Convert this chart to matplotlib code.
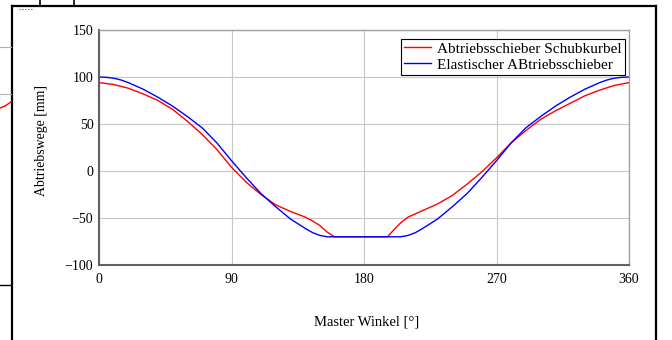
import matplotlib
matplotlib.use("Agg")
import matplotlib.pyplot as plt

# Winkel [°] und Wege [mm]
winkel_rot = [0, 10, 20, 30, 40, 50, 60, 70, 80, 90, 100, 110, 120, 130,
              140, 145, 150, 155, 160, 180, 196, 200, 205, 210, 220, 230,
              240, 250, 260, 270, 280, 290, 300, 310, 320, 330, 340, 350, 360]
weg_rot = [94, 92, 88, 82, 75, 65.5, 53, 39, 23, 4, -12, -25, -36, -43,
           -49, -53, -58, -65, -70, -70, -70, -63, -55, -49, -42, -35,
           -26, -14, -1, 14, 30, 43, 55, 64, 72, 80, 86, 91, 94]

winkel_blau = [0, 5, 10, 15, 20, 30, 40, 50, 60, 70, 80, 90, 100, 110, 120,
               130, 140, 145, 150, 155, 180, 205, 210, 215, 220, 230, 240,
               250, 260, 270, 280, 290, 300, 310, 320, 330, 340, 345, 350,
               355, 360]
weg_blau = [100, 99.7, 98.7, 96.8, 94, 87, 78.5, 69, 58, 46, 30, 11, -7, -24,
            -38, -51, -61, -65.5, -68.5, -70, -70, -70, -68.5, -65.5, -61,
            -51, -38, -24, -7, 11, 30, 46, 58, 69, 78.5, 87, 94, 96.8, 98.7,
            99.7, 100]

label_rot = "Abtriebsschieber Schubkurbel"
label_blau = "Elastischer ABtriebsschieber"
x_ticks = [0, 90, 180, 270, 360]
y_ticks = [-100, -50, 0, 50, 100, 150]

plt.rcParams["font.family"] = ["Liberation Serif", "DejaVu Serif"]
plt.rcParams["font.size"] = 10
plt.rcParams["axes.unicode_minus"] = True

W, H = 672, 340
fig = plt.figure(figsize=(W / 100, H / 100), dpi=100)

# Hintergrund-Rahmen (Reste des Screenshots)
bg = fig.add_axes([0, 0, 1, 1])
bg.set_xlim(0, W)
bg.set_ylim(H, 0)
bg.axis("off")
bg.plot([12, 12], [6, H], color="black", lw=1.6)
bg.plot([12, 656], [6, 6], color="black", lw=1.6)
bg.plot([656, 656], [6, H], color="black", lw=1.6)
bg.plot([40, 40], [0, 6], color="black", lw=1.2)
bg.plot([74, 74], [0, 6], color="black", lw=1.2)
bg.plot([0, 11], [47, 47], color="#b0b0b0", lw=0.8)
bg.plot([0, 11], [94, 94], color="#b0b0b0", lw=0.8)
bg.plot([0, 11], [285, 285], color="black", lw=1.0)
bg.plot([0, 5, 11], [108, 106, 102], color="red", lw=1.0)
bg.plot([19, 33], [9, 9], color="green", lw=0.8, ls=":")

ax = fig.add_axes([99 / W, 1 - 265 / H, 530 / W, 235 / H])
ax.plot(winkel_rot, weg_rot, color="#ff0000", lw=1.0, label=label_rot)
ax.plot(winkel_blau, weg_blau, color="#0000ff", lw=1.0, label=label_blau)

ax.set_xlim(0, 360)
ax.set_ylim(-100, 150)
ax.set_xticks(x_ticks)
ax.set_yticks(y_ticks)
ax.tick_params(length=0, pad=4, labelsize=10)
ax.tick_params(axis="x", pad=6)
ax.grid(True, color="#c8c8c8", lw=0.8)
ax.set_axisbelow(True)

for s in ["left", "bottom"]:
    ax.spines[s].set_color("#606060")
    ax.spines[s].set_linewidth(1.5)
for s in ["top", "right"]:
    ax.spines[s].set_color("#a0a0a0")
    ax.spines[s].set_linewidth(1.0)

leg = ax.legend(loc="upper right", bbox_to_anchor=(0.9985, 0.975),
                fontsize=11, frameon=True, fancybox=False, framealpha=1.0,
                edgecolor="black", handlelength=1.8, handletextpad=0.4,
                borderpad=0.2, labelspacing=0.15, borderaxespad=0.2)
leg.get_frame().set_linewidth(0.8)

fig.text(42 / W, 1 - 140 / H, "Abtriebswege [mm]", rotation=90,
         ha="center", va="center", fontsize=10)
fig.text(367 / W, 1 - 322 / H, "Master Winkel [°]",
         ha="center", va="center", fontsize=10.5)

fig.savefig("out.png", dpi=100)
